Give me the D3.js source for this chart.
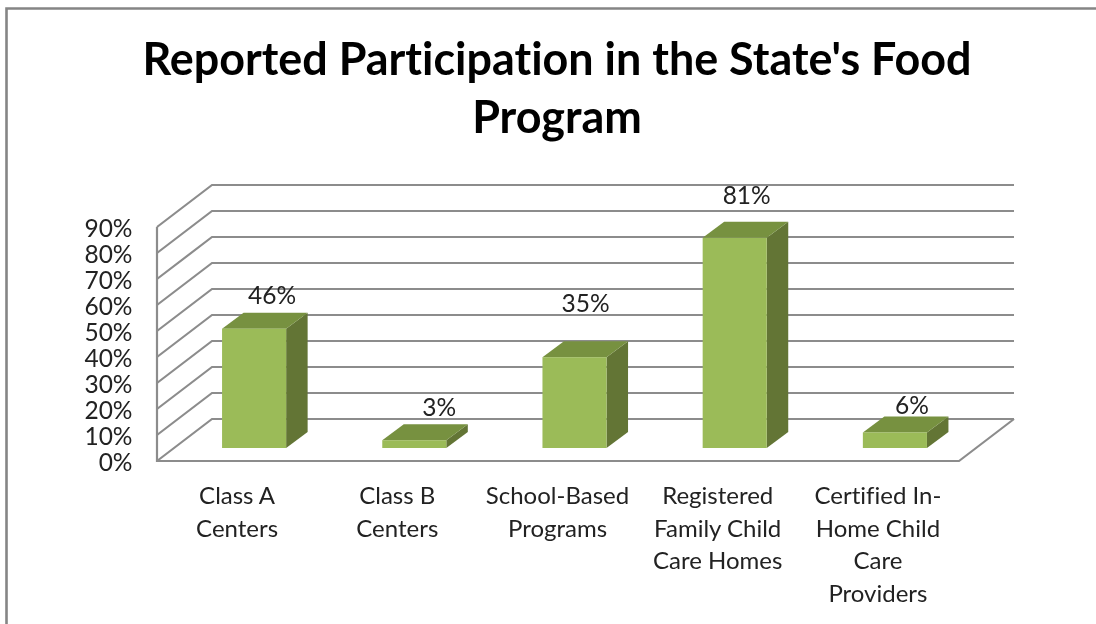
<!DOCTYPE html>
<html><head><meta charset="utf-8">
<script src="https://cdn.jsdelivr.net/npm/d3@7"></script>
<style>html,body{margin:0;padding:0;background:#fff;overflow:hidden}svg{display:block}text{font-family:Lato,"Open Sans",sans-serif;font-variant-ligatures:none}</style>
</head><body><svg id="c" width="1096" height="624"></svg>
<script>
const titleLines=["Reported Participation in the State's Food","Program"];
const categories=["Class A Centers","Class B Centers","School-Based Programs","Registered Family Child Care Homes","Certified In-Home Child Care Providers"];
const categoryLines=[["Class A","Centers"],["Class B","Centers"],["School-Based","Programs"],["Registered","Family Child","Care Homes"],["Certified In-","Home Child","Care","Providers"]];
const values=[46,3,35,81,6];
const valueLabels=["46%","3%","35%","81%","6%"];
const tickValues=[0,10,20,30,40,50,60,70,80,90];

const svg=d3.select("#c");
const W=1096,H=624;
const defs=svg.append("defs");
defs.append("filter").attr("id","soft").append("feGaussianBlur").attr("stdDeviation",0.6);
const root=svg.append("g").attr("filter","url(#soft)");
root.append("rect").attr("width",W).attr("height",H).attr("fill","#fff");

root.append("path").attr("d","M6.5,624V8.5H1096").attr("fill","none").attr("stroke","#858585").attr("stroke-width",2.6);

root.append("g").selectAll("text").data(titleLines).join("text")
 .attr("x",557).attr("y",(d,i)=>75+i*58).attr("text-anchor","middle")
 .attr("font-size",44.9).attr("font-weight",700).attr("fill","#000").text(d=>d);

const depth={dx:55,dy:-42};
const yFront=d3.scaleLinear().domain([0,90]).range([461,227]);
const xFloor=[157,959];
const gridColor="#8c8c8c";
const grid=root.append("g").attr("fill","none").attr("stroke",gridColor).attr("stroke-width",2.2);
grid.selectAll("path.g").data(tickValues).join("path").attr("class","g")
 .attr("d",d=>{const y=yFront(d);return `M${xFloor[0]},${y}L${xFloor[0]+depth.dx},${y+depth.dy}H${xFloor[1]+depth.dx}`;});
grid.append("path").attr("d",`M${xFloor[0]},${yFront(90)}V${yFront(0)}H${xFloor[1]}L${xFloor[1]+depth.dx},${yFront(0)+depth.dy}`);

root.append("g").selectAll("text").data(tickValues).join("text")
 .attr("x",132.5).attr("y",d=>yFront(d)+10).attr("text-anchor","end")
 .attr("font-size",24.5).attr("fill","#222").text(d=>d+"%");

const x=d3.scaleBand().domain(categories).range([174,975]).paddingInner(0.6).paddingOuter(0.3);
const barBase=448;
const yBar=d3.scaleLinear().domain([0,90]).range([barBase,barBase-233.5]);
const bd={dx:21.5,dy:-16};
const colors={front:"#9BBB59",top:"#779140",side:"#637536"};
const bars=root.append("g").selectAll("g").data(values).join("g");
bars.append("path").attr("fill",colors.side).attr("d",(d,i)=>{
 const r=x(categories[i])+x.bandwidth(),t=yBar(d);
 return `M${r},${t}l${bd.dx},${bd.dy}V${barBase+bd.dy}L${r},${barBase}Z`;});
bars.append("path").attr("fill",colors.top).attr("d",(d,i)=>{
 const l=x(categories[i]),t=yBar(d);
 return `M${l},${t}l${bd.dx},${bd.dy}h${x.bandwidth()}l${-bd.dx},${-bd.dy}Z`;});
bars.append("rect").attr("fill",colors.front)
 .attr("x",(d,i)=>x(categories[i])).attr("width",x.bandwidth())
 .attr("y",d=>yBar(d)).attr("height",d=>barBase-yBar(d));

// data labels were placed by hand in the source chart
const labelLift=[25,24,45,34,18];
const labelShift=[18,25,11,12,17];
root.append("g").selectAll("text").data(values).join("text")
 .attr("x",(d,i)=>x(categories[i])+x.bandwidth()/2+labelShift[i])
 .attr("y",(d,i)=>yBar(d)-labelLift[i]).attr("text-anchor","middle")
 .attr("font-size",24.5).attr("fill","#222").text((d,i)=>valueLabels[i]);

const cat=root.append("g").selectAll("text").data(categories).join("text")
 .attr("text-anchor","middle").attr("font-size",24).attr("fill","#222");
cat.each(function(c,i){
 d3.select(this).selectAll("tspan").data(categoryLines[i]).join("tspan")
  .attr("x",x(c)+x.bandwidth()/2-17).attr("y",(d,j)=>504+j*32.5).text(d=>d);
});
</script></body></html>
